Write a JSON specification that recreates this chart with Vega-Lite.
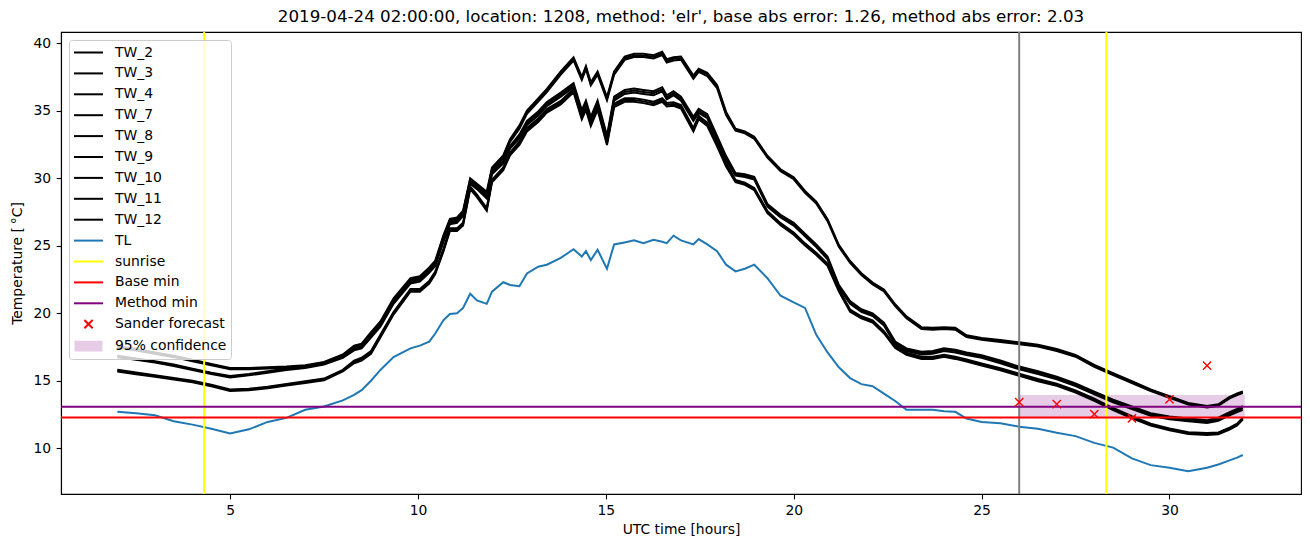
{
  "$schema": "https://vega.github.io/schema/vega-lite/v6.json",
  "width": 1240,
  "height": 462,
  "autosize": {"type": "none"},
  "padding": {"left": 61, "top": 32, "right": 9, "bottom": 53},
  "background": "white",
  "title": {"text": "2019-04-24 02:00:00, location: 1208, method: 'elr', base abs error: 1.26, method abs error: 2.03", "fontSize": 16.7, "font": "DejaVu Sans", "fontWeight": "normal", "color": "black", "anchor": "middle", "offset": 5},
  "config": {
    "font": "DejaVu Sans",
    "view": {"stroke": "black", "strokeWidth": 1.1},
    "axis": {"grid": false, "domainColor": "black", "domainWidth": 1.1, "tickColor": "black", "tickWidth": 1.1, "tickSize": 4.9, "labelFontSize": 13.9, "labelColor": "black", "labelFont": "DejaVu Sans", "titleFont": "DejaVu Sans", "titleFontSize": 13.9, "titleFontWeight": "normal", "titleColor": "black", "labelFlush": false, "labelOverlap": false},
    "legend": {
      "orient": "top-left",
      "offset": 7.5,
      "padding": 4,
      "fillColor": "rgba(255,255,255,0.8)",
      "strokeColor": "#cccccc",
      "cornerRadius": 3,
      "labelFont": "DejaVu Sans",
      "labelFontSize": 13.9,
      "labelColor": "black",
      "labelLimit": 400,
      "symbolSize": 210,
      "symbolStrokeWidth": 2,
      "symbolOffset": 7,
      "labelOffset": 18,
      "rowPadding": 4.9,
      "symbolLimit": 50,
      "symbolOpacity": 1
    }
  },
  "datasets": {
    "tw": [
      {"t":2.0,"TW_2":17.55,"TW_3":17.5,"TW_4":17.45,"TW_7":16.85,"TW_8":16.8,"TW_9":16.75,"TW_10":15.81,"TW_11":15.75,"TW_12":15.69,"TL":12.7},
      {"t":2.5,"TW_2":17.35,"TW_3":17.3,"TW_4":17.25,"TW_7":16.65,"TW_8":16.6,"TW_9":16.55,"TW_10":15.61,"TW_11":15.55,"TW_12":15.49,"TL":12.6},
      {"t":3.0,"TW_2":17.1,"TW_3":17.05,"TW_4":17.0,"TW_7":16.45,"TW_8":16.4,"TW_9":16.35,"TW_10":15.41,"TW_11":15.35,"TW_12":15.29,"TL":12.45},
      {"t":3.5,"TW_2":16.85,"TW_3":16.8,"TW_4":16.75,"TW_7":16.2,"TW_8":16.15,"TW_9":16.1,"TW_10":15.21,"TW_11":15.15,"TW_12":15.09,"TL":12.0},
      {"t":4.0,"TW_2":16.55,"TW_3":16.5,"TW_4":16.45,"TW_7":15.9,"TW_8":15.85,"TW_9":15.8,"TW_10":15.01,"TW_11":14.95,"TW_12":14.89,"TL":11.75},
      {"t":4.5,"TW_2":16.25,"TW_3":16.2,"TW_4":16.15,"TW_7":15.6,"TW_8":15.55,"TW_9":15.5,"TW_10":14.71,"TW_11":14.65,"TW_12":14.59,"TL":11.45},
      {"t":5.0,"TW_2":15.95,"TW_3":15.9,"TW_4":15.85,"TW_7":15.35,"TW_8":15.3,"TW_9":15.25,"TW_10":14.36,"TW_11":14.3,"TW_12":14.24,"TL":11.1},
      {"t":5.5,"TW_2":15.95,"TW_3":15.9,"TW_4":15.85,"TW_7":15.5,"TW_8":15.45,"TW_9":15.4,"TW_10":14.41,"TW_11":14.35,"TW_12":14.29,"TL":11.4},
      {"t":6.0,"TW_2":16.0,"TW_3":15.95,"TW_4":15.9,"TW_7":15.7,"TW_8":15.65,"TW_9":15.6,"TW_10":14.56,"TW_11":14.5,"TW_12":14.44,"TL":11.95},
      {"t":6.5,"TW_2":16.05,"TW_3":16.0,"TW_4":15.95,"TW_7":15.9,"TW_8":15.85,"TW_9":15.8,"TW_10":14.76,"TW_11":14.7,"TW_12":14.64,"TL":12.25},
      {"t":7.0,"TW_2":16.15,"TW_3":16.1,"TW_4":16.05,"TW_7":16.05,"TW_8":16.0,"TW_9":15.95,"TW_10":14.96,"TW_11":14.9,"TW_12":14.84,"TL":12.85},
      {"t":7.5,"TW_2":16.4,"TW_3":16.35,"TW_4":16.3,"TW_7":16.3,"TW_8":16.25,"TW_9":16.2,"TW_10":15.16,"TW_11":15.1,"TW_12":15.04,"TL":13.1},
      {"t":8.0,"TW_2":16.95,"TW_3":16.9,"TW_4":16.85,"TW_7":16.8,"TW_8":16.75,"TW_9":16.7,"TW_10":15.81,"TW_11":15.75,"TW_12":15.69,"TL":13.55},
      {"t":8.3,"TW_2":17.6,"TW_3":17.5,"TW_4":17.4,"TW_7":17.45,"TW_8":17.35,"TW_9":17.25,"TW_10":16.5,"TW_11":16.4,"TW_12":16.3,"TL":13.95},
      {"t":8.5,"TW_2":17.75,"TW_3":17.65,"TW_4":17.55,"TW_7":17.6,"TW_8":17.5,"TW_9":17.4,"TW_10":16.7,"TW_11":16.6,"TW_12":16.5,"TL":14.3},
      {"t":8.75,"TW_2":18.6,"TW_3":18.5,"TW_4":18.4,"TW_7":18.4,"TW_8":18.3,"TW_9":18.2,"TW_10":17.2,"TW_11":17.1,"TW_12":17.0,"TL":15.0},
      {"t":9.0,"TW_2":19.4,"TW_3":19.3,"TW_4":19.2,"TW_7":19.2,"TW_8":19.1,"TW_9":19.0,"TW_10":18.4,"TW_11":18.3,"TW_12":18.2,"TL":15.8},
      {"t":9.35,"TW_2":21.1,"TW_3":21.0,"TW_4":20.9,"TW_7":20.9,"TW_8":20.8,"TW_9":20.7,"TW_10":20.1,"TW_11":20.0,"TW_12":19.9,"TL":16.75},
      {"t":9.8,"TW_2":22.6,"TW_3":22.5,"TW_4":22.4,"TW_7":22.4,"TW_8":22.3,"TW_9":22.2,"TW_10":21.8,"TW_11":21.7,"TW_12":21.6,"TL":17.4},
      {"t":10.05,"TW_2":22.75,"TW_3":22.65,"TW_4":22.55,"TW_7":22.55,"TW_8":22.45,"TW_9":22.35,"TW_10":21.8,"TW_11":21.7,"TW_12":21.6,"TL":17.6},
      {"t":10.3,"TW_2":23.4,"TW_3":23.3,"TW_4":23.2,"TW_7":23.2,"TW_8":23.1,"TW_9":23.0,"TW_10":22.4,"TW_11":22.3,"TW_12":22.2,"TL":17.9},
      {"t":10.46,"TW_2":23.9,"TW_3":23.8,"TW_4":23.7,"TW_7":23.7,"TW_8":23.6,"TW_9":23.5,"TW_10":23.1,"TW_11":23.0,"TW_12":22.9,"TL":18.5},
      {"t":10.68,"TW_2":25.8,"TW_3":25.7,"TW_4":25.6,"TW_7":25.5,"TW_8":25.4,"TW_9":25.3,"TW_10":24.8,"TW_11":24.7,"TW_12":24.6,"TL":19.5},
      {"t":10.85,"TW_2":27.0,"TW_3":26.9,"TW_4":26.8,"TW_7":26.8,"TW_8":26.7,"TW_9":26.6,"TW_10":26.3,"TW_11":26.2,"TW_12":26.1,"TL":19.95},
      {"t":11.04,"TW_2":27.1,"TW_3":27.0,"TW_4":26.9,"TW_7":26.9,"TW_8":26.8,"TW_9":26.7,"TW_10":26.3,"TW_11":26.2,"TW_12":26.1,"TL":20.0},
      {"t":11.2,"TW_2":27.6,"TW_3":27.5,"TW_4":27.4,"TW_7":27.4,"TW_8":27.3,"TW_9":27.2,"TW_10":26.7,"TW_11":26.6,"TW_12":26.5,"TL":20.4},
      {"t":11.39,"TW_2":30.0,"TW_3":29.9,"TW_4":29.8,"TW_7":29.8,"TW_8":29.7,"TW_9":29.6,"TW_10":29.4,"TW_11":29.3,"TW_12":29.2,"TL":21.45},
      {"t":11.57,"TW_2":29.6,"TW_3":29.5,"TW_4":29.4,"TW_7":29.4,"TW_8":29.3,"TW_9":29.2,"TW_10":28.8,"TW_11":28.7,"TW_12":28.6,"TL":20.95},
      {"t":11.83,"TW_2":29.0,"TW_3":28.9,"TW_4":28.8,"TW_7":28.7,"TW_8":28.6,"TW_9":28.5,"TW_10":27.8,"TW_11":27.7,"TW_12":27.6,"TL":20.7},
      {"t":11.97,"TW_2":30.8,"TW_3":30.7,"TW_4":30.6,"TW_7":30.5,"TW_8":30.4,"TW_9":30.3,"TW_10":29.9,"TW_11":29.8,"TW_12":29.7,"TL":21.6},
      {"t":12.27,"TW_2":31.7,"TW_3":31.6,"TW_4":31.5,"TW_7":31.3,"TW_8":31.2,"TW_9":31.1,"TW_10":30.8,"TW_11":30.7,"TW_12":30.6,"TL":22.3},
      {"t":12.45,"TW_2":32.9,"TW_3":32.8,"TW_4":32.7,"TW_7":32.4,"TW_8":32.3,"TW_9":32.2,"TW_10":31.9,"TW_11":31.8,"TW_12":31.7,"TL":22.1},
      {"t":12.7,"TW_2":33.92,"TW_3":33.8,"TW_4":33.68,"TW_7":33.25,"TW_8":33.1,"TW_9":32.95,"TW_10":32.73,"TW_11":32.6,"TW_12":32.47,"TL":22.0},
      {"t":12.9,"TW_2":35.02,"TW_3":34.9,"TW_4":34.78,"TW_7":34.25,"TW_8":34.1,"TW_9":33.95,"TW_10":33.73,"TW_11":33.6,"TW_12":33.47,"TL":22.95},
      {"t":13.2,"TW_2":35.92,"TW_3":35.8,"TW_4":35.68,"TW_7":34.95,"TW_8":34.8,"TW_9":34.65,"TW_10":34.43,"TW_11":34.3,"TW_12":34.17,"TL":23.45},
      {"t":13.43,"TW_2":36.62,"TW_3":36.5,"TW_4":36.38,"TW_7":35.65,"TW_8":35.5,"TW_9":35.35,"TW_10":35.13,"TW_11":35.0,"TW_12":34.87,"TL":23.6},
      {"t":13.8,"TW_2":37.92,"TW_3":37.8,"TW_4":37.68,"TW_7":36.35,"TW_8":36.2,"TW_9":36.05,"TW_10":35.73,"TW_11":35.6,"TW_12":35.47,"TL":24.1},
      {"t":14.14,"TW_2":38.97,"TW_3":38.85,"TW_4":38.73,"TW_7":37.05,"TW_8":36.9,"TW_9":36.75,"TW_10":36.63,"TW_11":36.5,"TW_12":36.37,"TL":24.75},
      {"t":14.36,"TW_2":37.52,"TW_3":37.4,"TW_4":37.28,"TW_7":35.05,"TW_8":34.9,"TW_9":34.75,"TW_10":34.63,"TW_11":34.5,"TW_12":34.37,"TL":24.2},
      {"t":14.47,"TW_2":38.32,"TW_3":38.2,"TW_4":38.08,"TW_7":35.75,"TW_8":35.6,"TW_9":35.45,"TW_10":35.33,"TW_11":35.2,"TW_12":35.07,"TL":24.6},
      {"t":14.6,"TW_2":37.12,"TW_3":37.0,"TW_4":36.88,"TW_7":34.55,"TW_8":34.4,"TW_9":34.25,"TW_10":34.13,"TW_11":34.0,"TW_12":33.87,"TL":23.95},
      {"t":14.78,"TW_2":37.92,"TW_3":37.8,"TW_4":37.68,"TW_7":35.75,"TW_8":35.6,"TW_9":35.45,"TW_10":35.33,"TW_11":35.2,"TW_12":35.07,"TL":24.7},
      {"t":15.03,"TW_2":36.02,"TW_3":35.9,"TW_4":35.78,"TW_7":33.15,"TW_8":33.0,"TW_9":32.85,"TW_10":32.73,"TW_11":32.6,"TW_12":32.47,"TL":23.3},
      {"t":15.22,"TW_2":37.92,"TW_3":37.8,"TW_4":37.68,"TW_7":36.05,"TW_8":35.9,"TW_9":35.75,"TW_10":35.53,"TW_11":35.4,"TW_12":35.27,"TL":25.1},
      {"t":15.5,"TW_2":39.02,"TW_3":38.9,"TW_4":38.78,"TW_7":36.55,"TW_8":36.4,"TW_9":36.25,"TW_10":35.93,"TW_11":35.8,"TW_12":35.67,"TL":25.25},
      {"t":15.75,"TW_2":39.22,"TW_3":39.1,"TW_4":38.98,"TW_7":36.65,"TW_8":36.5,"TW_9":36.35,"TW_10":35.93,"TW_11":35.8,"TW_12":35.67,"TL":25.4},
      {"t":16.0,"TW_2":39.22,"TW_3":39.1,"TW_4":38.98,"TW_7":36.55,"TW_8":36.4,"TW_9":36.25,"TW_10":35.83,"TW_11":35.7,"TW_12":35.57,"TL":25.2},
      {"t":16.27,"TW_2":39.12,"TW_3":39.0,"TW_4":38.88,"TW_7":36.45,"TW_8":36.3,"TW_9":36.15,"TW_10":35.68,"TW_11":35.55,"TW_12":35.42,"TL":25.45},
      {"t":16.5,"TW_2":39.37,"TW_3":39.25,"TW_4":39.13,"TW_7":36.75,"TW_8":36.6,"TW_9":36.45,"TW_10":35.93,"TW_11":35.8,"TW_12":35.67,"TL":25.3},
      {"t":16.62,"TW_2":38.82,"TW_3":38.7,"TW_4":38.58,"TW_7":36.15,"TW_8":36.0,"TW_9":35.85,"TW_10":35.58,"TW_11":35.45,"TW_12":35.32,"TL":25.2},
      {"t":16.8,"TW_2":38.97,"TW_3":38.85,"TW_4":38.73,"TW_7":36.45,"TW_8":36.3,"TW_9":36.15,"TW_10":35.63,"TW_11":35.5,"TW_12":35.37,"TL":25.75},
      {"t":17.0,"TW_2":39.02,"TW_3":38.9,"TW_4":38.78,"TW_7":36.05,"TW_8":35.9,"TW_9":35.75,"TW_10":35.43,"TW_11":35.3,"TW_12":35.17,"TL":25.4},
      {"t":17.33,"TW_2":37.62,"TW_3":37.5,"TW_4":37.38,"TW_7":34.55,"TW_8":34.4,"TW_9":34.25,"TW_10":33.73,"TW_11":33.6,"TW_12":33.47,"TL":25.1},
      {"t":17.47,"TW_2":38.12,"TW_3":38.0,"TW_4":37.88,"TW_7":35.15,"TW_8":35.0,"TW_9":34.85,"TW_10":34.63,"TW_11":34.5,"TW_12":34.37,"TL":25.5},
      {"t":17.7,"TW_2":37.82,"TW_3":37.7,"TW_4":37.58,"TW_7":34.75,"TW_8":34.6,"TW_9":34.45,"TW_10":34.13,"TW_11":34.0,"TW_12":33.87,"TL":25.1},
      {"t":17.96,"TW_2":36.92,"TW_3":36.8,"TW_4":36.68,"TW_7":33.15,"TW_8":33.0,"TW_9":32.85,"TW_10":32.63,"TW_11":32.5,"TW_12":32.37,"TL":24.6},
      {"t":18.2,"TW_2":34.92,"TW_3":34.8,"TW_4":34.68,"TW_7":31.65,"TW_8":31.5,"TW_9":31.35,"TW_10":31.13,"TW_11":31.0,"TW_12":30.87,"TL":23.6},
      {"t":18.45,"TW_2":33.67,"TW_3":33.6,"TW_4":33.53,"TW_7":30.4,"TW_8":30.3,"TW_9":30.2,"TW_10":29.88,"TW_11":29.8,"TW_12":29.72,"TL":23.1},
      {"t":18.7,"TW_2":33.47,"TW_3":33.4,"TW_4":33.33,"TW_7":30.3,"TW_8":30.2,"TW_9":30.1,"TW_10":29.68,"TW_11":29.6,"TW_12":29.52,"TL":23.3},
      {"t":18.95,"TW_2":33.07,"TW_3":33.0,"TW_4":32.93,"TW_7":30.1,"TW_8":30.0,"TW_9":29.9,"TW_10":29.28,"TW_11":29.2,"TW_12":29.12,"TL":23.6},
      {"t":19.3,"TW_2":31.67,"TW_3":31.6,"TW_4":31.53,"TW_7":28.1,"TW_8":28.0,"TW_9":27.9,"TW_10":27.58,"TW_11":27.5,"TW_12":27.42,"TL":22.6},
      {"t":19.65,"TW_2":30.67,"TW_3":30.6,"TW_4":30.53,"TW_7":27.3,"TW_8":27.2,"TW_9":27.1,"TW_10":26.68,"TW_11":26.6,"TW_12":26.52,"TL":21.3},
      {"t":20.0,"TW_2":30.07,"TW_3":30.0,"TW_4":29.93,"TW_7":26.7,"TW_8":26.6,"TW_9":26.5,"TW_10":25.98,"TW_11":25.9,"TW_12":25.82,"TL":20.8},
      {"t":20.3,"TW_2":29.07,"TW_3":29.0,"TW_4":28.93,"TW_7":25.9,"TW_8":25.8,"TW_9":25.7,"TW_10":25.18,"TW_11":25.1,"TW_12":25.02,"TL":20.4},
      {"t":20.6,"TW_2":28.27,"TW_3":28.2,"TW_4":28.13,"TW_7":25.1,"TW_8":25.0,"TW_9":24.9,"TW_10":24.48,"TW_11":24.4,"TW_12":24.32,"TL":18.4},
      {"t":20.9,"TW_2":26.97,"TW_3":26.9,"TW_4":26.83,"TW_7":24.2,"TW_8":24.1,"TW_9":24.0,"TW_10":23.68,"TW_11":23.6,"TW_12":23.52,"TL":17.1},
      {"t":21.2,"TW_2":25.07,"TW_3":25.0,"TW_4":24.93,"TW_7":22.1,"TW_8":22.0,"TW_9":21.9,"TW_10":21.78,"TW_11":21.7,"TW_12":21.62,"TL":16.0},
      {"t":21.5,"TW_2":23.87,"TW_3":23.8,"TW_4":23.73,"TW_7":20.9,"TW_8":20.8,"TW_9":20.7,"TW_10":20.28,"TW_11":20.2,"TW_12":20.12,"TL":15.2},
      {"t":21.8,"TW_2":22.97,"TW_3":22.9,"TW_4":22.83,"TW_7":20.3,"TW_8":20.2,"TW_9":20.1,"TW_10":19.78,"TW_11":19.7,"TW_12":19.62,"TL":14.75},
      {"t":22.1,"TW_2":22.27,"TW_3":22.2,"TW_4":22.13,"TW_7":20.0,"TW_8":19.9,"TW_9":19.8,"TW_10":19.48,"TW_11":19.4,"TW_12":19.32,"TL":14.6},
      {"t":22.4,"TW_2":21.77,"TW_3":21.7,"TW_4":21.63,"TW_7":19.3,"TW_8":19.2,"TW_9":19.1,"TW_10":18.68,"TW_11":18.6,"TW_12":18.52,"TL":14.05},
      {"t":22.7,"TW_2":20.67,"TW_3":20.6,"TW_4":20.53,"TW_7":17.9,"TW_8":17.8,"TW_9":17.7,"TW_10":17.58,"TW_11":17.5,"TW_12":17.42,"TL":13.5},
      {"t":23.0,"TW_2":19.77,"TW_3":19.7,"TW_4":19.63,"TW_7":17.4,"TW_8":17.3,"TW_9":17.2,"TW_10":17.08,"TW_11":17.0,"TW_12":16.92,"TL":12.85},
      {"t":23.4,"TW_2":18.97,"TW_3":18.9,"TW_4":18.83,"TW_7":17.15,"TW_8":17.05,"TW_9":16.95,"TW_10":16.78,"TW_11":16.7,"TW_12":16.62,"TL":12.85},
      {"t":23.7,"TW_2":18.92,"TW_3":18.85,"TW_4":18.78,"TW_7":17.2,"TW_8":17.1,"TW_9":17.0,"TW_10":16.78,"TW_11":16.7,"TW_12":16.62,"TL":12.85},
      {"t":24.0,"TW_2":18.97,"TW_3":18.9,"TW_4":18.83,"TW_7":17.4,"TW_8":17.3,"TW_9":17.2,"TW_10":16.93,"TW_11":16.85,"TW_12":16.77,"TL":12.75},
      {"t":24.3,"TW_2":18.92,"TW_3":18.85,"TW_4":18.78,"TW_7":17.3,"TW_8":17.2,"TW_9":17.1,"TW_10":16.78,"TW_11":16.7,"TW_12":16.62,"TL":12.7},
      {"t":24.6,"TW_2":18.37,"TW_3":18.3,"TW_4":18.23,"TW_7":17.1,"TW_8":17.0,"TW_9":16.9,"TW_10":16.58,"TW_11":16.5,"TW_12":16.42,"TL":12.2},
      {"t":25.0,"TW_2":18.17,"TW_3":18.1,"TW_4":18.03,"TW_7":16.9,"TW_8":16.8,"TW_9":16.7,"TW_10":16.28,"TW_11":16.2,"TW_12":16.12,"TL":11.95},
      {"t":25.5,"TW_2":18.02,"TW_3":17.95,"TW_4":17.88,"TW_7":16.5,"TW_8":16.4,"TW_9":16.3,"TW_10":15.93,"TW_11":15.85,"TW_12":15.77,"TL":11.85},
      {"t":26.0,"TW_2":17.85,"TW_3":17.78,"TW_4":17.71,"TW_7":16.05,"TW_8":15.95,"TW_9":15.85,"TW_10":15.53,"TW_11":15.45,"TW_12":15.37,"TL":11.6},
      {"t":26.5,"TW_2":17.67,"TW_3":17.6,"TW_4":17.53,"TW_7":15.7,"TW_8":15.6,"TW_9":15.5,"TW_10":15.13,"TW_11":15.05,"TW_12":14.97,"TL":11.45},
      {"t":27.0,"TW_2":17.35,"TW_3":17.28,"TW_4":17.21,"TW_7":15.3,"TW_8":15.2,"TW_9":15.1,"TW_10":14.78,"TW_11":14.7,"TW_12":14.62,"TL":11.15},
      {"t":27.5,"TW_2":16.92,"TW_3":16.85,"TW_4":16.78,"TW_7":14.8,"TW_8":14.7,"TW_9":14.6,"TW_10":14.28,"TW_11":14.2,"TW_12":14.12,"TL":10.9},
      {"t":28.0,"TW_2":16.17,"TW_3":16.1,"TW_4":16.03,"TW_7":14.2,"TW_8":14.1,"TW_9":14.0,"TW_10":13.68,"TW_11":13.6,"TW_12":13.52,"TL":10.4},
      {"t":28.5,"TW_2":15.57,"TW_3":15.5,"TW_4":15.43,"TW_7":13.6,"TW_8":13.5,"TW_9":13.4,"TW_10":12.98,"TW_11":12.9,"TW_12":12.82,"TL":10.05},
      {"t":29.0,"TW_2":14.97,"TW_3":14.9,"TW_4":14.83,"TW_7":13.1,"TW_8":13.0,"TW_9":12.9,"TW_10":12.38,"TW_11":12.3,"TW_12":12.22,"TL":9.25},
      {"t":29.5,"TW_2":14.36,"TW_3":14.3,"TW_4":14.24,"TW_7":12.6,"TW_8":12.5,"TW_9":12.4,"TW_10":11.82,"TW_11":11.75,"TW_12":11.68,"TL":8.75},
      {"t":30.0,"TW_2":13.86,"TW_3":13.8,"TW_4":13.74,"TW_7":12.35,"TW_8":12.25,"TW_9":12.15,"TW_10":11.47,"TW_11":11.4,"TW_12":11.33,"TL":8.55},
      {"t":30.5,"TW_2":13.36,"TW_3":13.3,"TW_4":13.24,"TW_7":12.2,"TW_8":12.1,"TW_9":12.0,"TW_10":11.19,"TW_11":11.12,"TW_12":11.05,"TL":8.3},
      {"t":31.0,"TW_2":13.14,"TW_3":13.08,"TW_4":13.02,"TW_7":12.07,"TW_8":11.97,"TW_9":11.87,"TW_10":11.13,"TW_11":11.06,"TW_12":10.99,"TL":8.55},
      {"t":31.3,"TW_2":13.26,"TW_3":13.2,"TW_4":13.14,"TW_7":12.27,"TW_8":12.15,"TW_9":12.03,"TW_10":11.17,"TW_11":11.1,"TW_12":11.03,"TL":8.8},
      {"t":31.6,"TW_2":13.81,"TW_3":13.75,"TW_4":13.69,"TW_7":12.67,"TW_8":12.55,"TW_9":12.43,"TW_10":11.52,"TW_11":11.45,"TW_12":11.38,"TL":9.1},
      {"t":31.8,"TW_2":14.06,"TW_3":14.0,"TW_4":13.94,"TW_7":12.92,"TW_8":12.8,"TW_9":12.68,"TW_10":11.82,"TW_11":11.75,"TW_12":11.68,"TL":9.3},
      {"t":31.95,"TW_2":14.21,"TW_3":14.15,"TW_4":14.09,"TW_7":13.12,"TW_8":13.0,"TW_9":12.85,"TW_10":12.27,"TW_11":12.2,"TW_12":12.13,"TL":9.5}
    ],
    "band": [{"t0": 26, "t1": 32, "lo": 12.22, "hi": 13.95}],
    "sunrise": [{"t": 4.31}, {"t": 28.32}],
    "now": [{"t": 26}],
    "mins": [{"series": "Base min", "v": 12.27}, {"series": "Method min", "v": 13.08}],
    "sander": [{"t": 26, "v": 13.41}, {"t": 27, "v": 13.26}, {"t": 28, "v": 12.52}, {"t": 29, "v": 12.22}, {"t": 30, "v": 13.63}, {"t": 31, "v": 16.12}]
  },
  "layer": [
    {
      "data": {"name": "band"},
      "mark": {"type": "rect", "color": "#e6cce6"},
      "encoding": {
        "x": {"field": "t0", "type": "quantitative", "scale": {"domain": [0.5, 33.5], "nice": false, "zero": false}, "axis": {"title": "UTC time [hours]", "values": [5, 10, 15, 20, 25, 30], "labelPadding": 5, "titlePadding": 5}},
        "x2": {"field": "t1"},
        "y": {"field": "lo", "type": "quantitative", "scale": {"domain": [6.61, 40.84], "nice": false, "zero": false}, "axis": {"title": "Temperature [\u2009°C]", "values": [10, 15, 20, 25, 30, 35, 40], "labelPadding": 5.5, "titlePadding": 8}},
        "y2": {"field": "hi"}
      }
    },
    {
      "data": {"name": "tw"},
      "transform": [{"fold": ["TW_2", "TW_3", "TW_4", "TW_7", "TW_8", "TW_9", "TW_10", "TW_11", "TW_12", "TL"], "as": ["series", "temp"]}],
      "mark": {"type": "line", "strokeWidth": 2},
      "encoding": {
        "x": {"field": "t", "type": "quantitative"},
        "y": {"field": "temp", "type": "quantitative"},
        "color": {
          "field": "series",
          "type": "nominal",
          "scale": {
            "domain": ["TW_2", "TW_3", "TW_4", "TW_7", "TW_8", "TW_9", "TW_10", "TW_11", "TW_12", "TL", "sunrise", "Base min", "Method min", "Sander forecast", "95% confidence"],
            "range": ["#000000", "#000000", "#000000", "#000000", "#000000", "#000000", "#000000", "#000000", "#000000", "#1f77b4", "#ffff00", "#ff0000", "#800080", "#ff0000", "#e6cce6"]
          },
          "legend": {"title": null}
        },
        "detail": {"field": "series"}
      }
    },
    {
      "data": {"name": "now"},
      "mark": {"type": "rule", "strokeWidth": 2, "color": "#808080"},
      "encoding": {"x": {"field": "t", "type": "quantitative"}}
    },
    {
      "data": {"name": "sunrise"},
      "mark": {"type": "rule", "strokeWidth": 2},
      "encoding": {"x": {"field": "t", "type": "quantitative"}, "color": {"datum": "sunrise", "type": "nominal"}}
    },
    {
      "data": {"name": "mins"},
      "mark": {"type": "rule", "strokeWidth": 2},
      "encoding": {"y": {"field": "v", "type": "quantitative"}, "color": {"field": "series", "type": "nominal"}}
    },
    {
      "data": {"name": "sander"},
      "mark": {"type": "point", "filled": false, "size": 210, "opacity": 1, "strokeWidth": 1.4},
      "encoding": {
        "x": {"field": "t", "type": "quantitative"},
        "y": {"field": "v", "type": "quantitative"},
        "color": {"datum": "Sander forecast", "type": "nominal"},
        "shape": {
          "datum": "Sander forecast",
          "type": "nominal",
          "scale": {
            "domain": ["TW_2", "TW_3", "TW_4", "TW_7", "TW_8", "TW_9", "TW_10", "TW_11", "TW_12", "TL", "sunrise", "Base min", "Method min", "Sander forecast", "95% confidence"],
            "range": ["M-2,0H2", "M-2,0H2", "M-2,0H2", "M-2,0H2", "M-2,0H2", "M-2,0H2", "M-2,0H2", "M-2,0H2", "M-2,0H2", "M-2,0H2", "M-2,0H2", "M-2,0H2", "M-2,0H2", "M-0.57,-0.57L0.57,0.57M0.57,-0.57L-0.57,0.57", "M-1.93,-0.6H1.93M-1.93,-0.33H1.93M-1.93,-0.07H1.93M-1.93,0.2H1.93M-1.93,0.46H1.93M-1.93,0.6H1.93"]
          },
          "legend": {"title": null}
        }
      }
    }
  ]
}
